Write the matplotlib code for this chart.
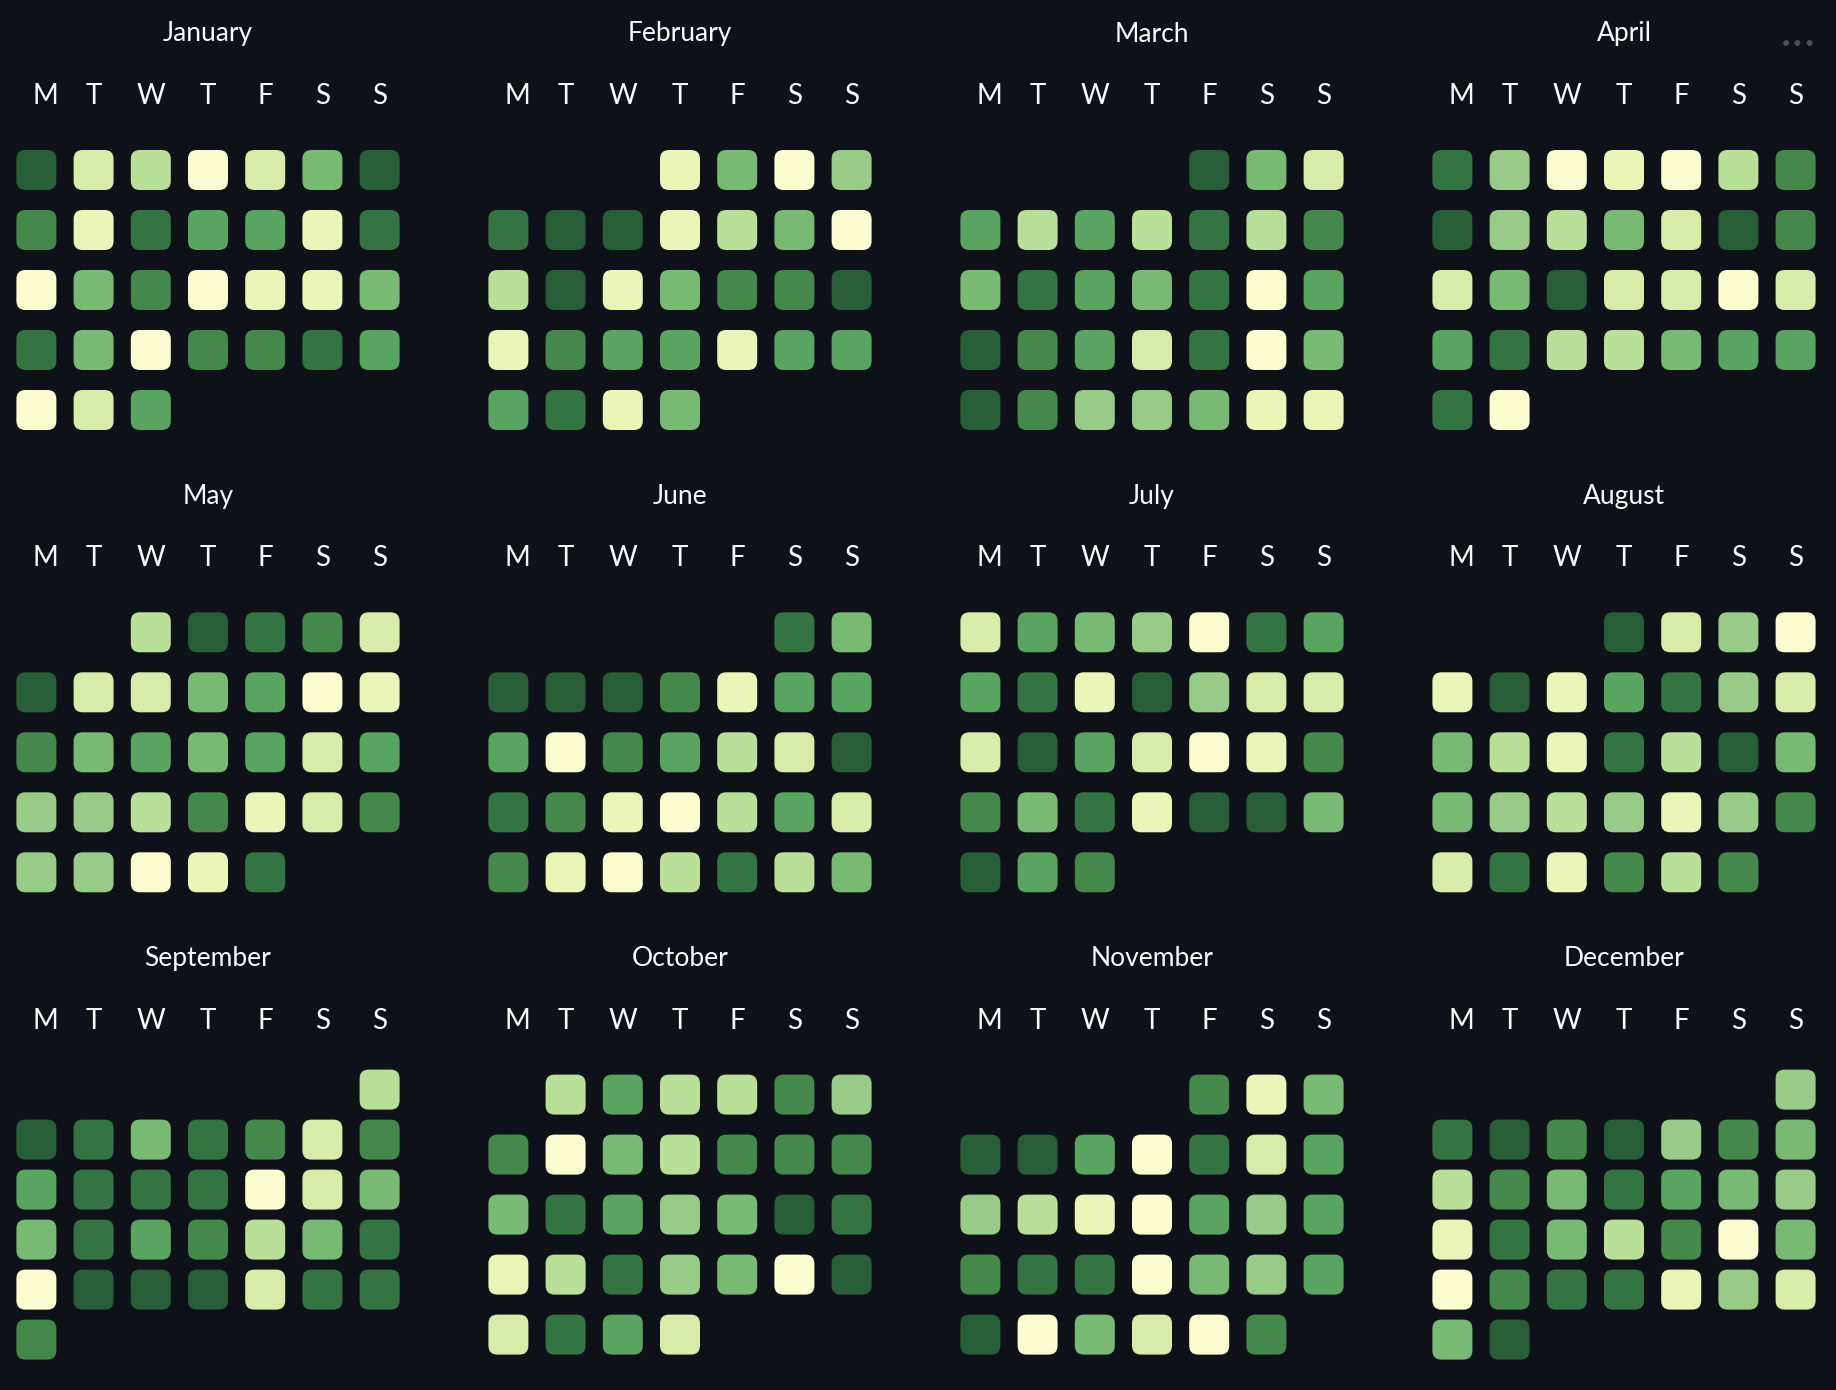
import calendar
import numpy as np
import matplotlib
matplotlib.use("Agg")
import matplotlib.pyplot as plt
from matplotlib.colors import ListedColormap, BoundaryNorm
from matplotlib.patches import FancyBboxPatch
from matplotlib.transforms import offset_copy

plt.rcParams['font.family'] = ['Lato', 'DejaVu Sans']

year = 2024
month_names = ["January", "February", "March", "April", "May", "June",
               "July", "August", "September", "October", "November", "December"]
day_labels = ["M", "T", "W", "T", "F", "S", "S"]

# one value per day of the month, 1 = lightest ... 10 = darkest
jan_vals = [10, 3, 4, 1, 3, 6, 10, 8, 2, 9, 7, 7, 2, 9, 1, 6, 8, 1, 2, 2, 6,
            9, 6, 1, 8, 8, 9, 7, 1, 3, 7]
feb_vals = [2, 6, 1, 5, 9, 10, 10, 2, 4, 6, 1, 4, 10, 2, 6, 8, 8, 10,
            2, 8, 7, 7, 2, 7, 7, 7, 9, 2, 6]
mar_vals = [10, 6, 3, 7, 4, 7, 4, 9, 4, 8, 6, 9, 7, 6, 9, 1, 7,
            10, 8, 7, 3, 9, 1, 6, 10, 8, 5, 5, 6, 2, 2]
apr_vals = [9, 5, 1, 2, 1, 4, 8, 10, 5, 4, 6, 3, 10, 8, 3, 6, 10, 3, 3, 1, 3,
            7, 9, 4, 4, 6, 7, 7, 9, 1]
may_vals = [4, 10, 9, 8, 3, 10, 3, 3, 6, 7, 1, 2, 8, 6, 7, 6, 7, 3, 7,
            5, 5, 4, 8, 2, 3, 8, 5, 5, 1, 2, 9]
jun_vals = [9, 6, 10, 10, 10, 8, 2, 7, 7, 7, 1, 8, 7, 4, 3, 10,
            9, 8, 2, 1, 4, 7, 3, 8, 2, 1, 4, 9, 4, 6]
jul_vals = [3, 7, 6, 5, 1, 9, 7, 7, 9, 2, 10, 5, 3, 3, 3, 10, 7, 3, 1, 2, 8,
            8, 6, 9, 2, 10, 10, 6, 10, 7, 8]
aug_vals = [10, 3, 5, 1, 2, 10, 2, 7, 9, 5, 3, 6, 4, 2, 9, 4, 10, 6,
            6, 5, 4, 5, 2, 5, 8, 3, 9, 2, 8, 4, 8]
sep_vals = [4, 10, 9, 6, 9, 8, 3, 8, 7, 9, 9, 9, 1, 3, 6, 6, 9, 7, 8, 4, 6, 9,
            1, 10, 10, 10, 3, 9, 9, 8]
oct_vals = [4, 7, 4, 4, 8, 5, 8, 1, 6, 4, 8, 8, 8, 6, 9, 7, 5, 6, 10, 9,
            2, 4, 9, 5, 6, 1, 10, 3, 9, 7, 3]
nov_vals = [8, 2, 6, 10, 10, 7, 1, 9, 3, 7, 5, 4, 2, 1, 7, 5, 7,
            8, 9, 9, 1, 6, 5, 7, 10, 1, 6, 3, 1, 8]
dec_vals = [5, 9, 10, 8, 10, 5, 8, 6, 4, 8, 6, 9, 7, 6, 5, 2, 9, 6, 4, 8, 1, 6,
            1, 8, 9, 9, 2, 5, 3, 6, 10]

all_vals = [jan_vals, feb_vals, mar_vals, apr_vals, may_vals, jun_vals,
            jul_vals, aug_vals, sep_vals, oct_vals, nov_vals, dec_vals]

shades = ["#fbfcd0", "#ebf5b8", "#d6eca8", "#b9df98", "#97cb87",
          "#78b974", "#5aa462", "#44884c", "#347443", "#275e37"]
cmap = ListedColormap(shades)
norm = BoundaryNorm(np.arange(0.5, 11.5), cmap.N)

bg = "#0e1117"
W, H = 1836, 1390
fig = plt.figure(figsize=(W / 100, H / 100), dpi=100, facecolor=bg)

col_px = 57.2      # width of one weekday column
area_h = 300.0     # height of the week area
cell_px = 40.0
radius_px = 9.0

for m, (name, vals) in enumerate(zip(month_names, all_vals)):
    left = 7.8 + (m % 4) * 472.0
    top = 140.0 + (m // 4) * 462.3
    ax = fig.add_axes([left / W, 1 - (top + area_h) / H, 7 * col_px / W, area_h / H])
    ax.set_axis_off()

    first_wd, ndays = calendar.monthrange(year, m + 1)
    n_rows = int(np.ceil((first_wd + ndays) / 7))
    row_px = area_h / n_rows
    ax.set_xlim(0, 7)
    ax.set_ylim(n_rows, 0)

    w = cell_px / col_px
    h = cell_px / row_px
    r = radius_px / col_px
    for d, v in enumerate(vals):
        k = first_wd + d
        x, y = k % 7 + 0.5, k // 7 + 0.5
        ax.add_patch(FancyBboxPatch((x - w / 2, y - h / 2), w, h,
                                    boxstyle=f"round,pad=0,rounding_size={r}",
                                    mutation_aspect=col_px / row_px,
                                    facecolor=cmap(norm(v)), edgecolor="none"))

    ax.text(0.5, 1 + 106 / area_h, name, transform=ax.transAxes,
            ha="center", va="center", color="#fafafa", fontsize=19)
    tr = ax.get_xaxis_transform()
    tr_first = offset_copy(tr, fig=fig, x=6.5, y=0, units="points")
    for i, lab in enumerate(day_labels):
        ax.text(i + 0.5, 1 + 44 / area_h, lab,
                transform=tr_first if i == 0 else tr,
                ha="center", va="center", color="#fafafa", fontsize=20)

fig.text(1798 / W, 1 - 45 / H, "•••", color="#4a4d55", fontsize=15,
         ha="center", va="center", family="DejaVu Sans")

fig.savefig("out.png", dpi=100, facecolor=bg)
